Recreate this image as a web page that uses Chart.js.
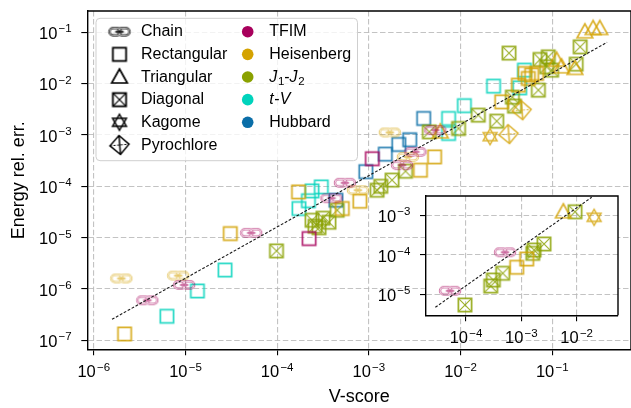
<!DOCTYPE html>
<html><head><meta charset="utf-8"><title>V-score vs energy error</title>
<script src="https://cdn.jsdelivr.net/npm/chart.js@4.4.1/dist/chart.umd.min.js"></script>
<style>
html,body{margin:0;padding:0;background:#fff;overflow:hidden;}
#wrap{position:relative;width:640px;height:408px;}
#wrap canvas{position:absolute;left:0;top:0;}
</style></head><body>
<div id="wrap"><canvas id="main" width="640" height="408"></canvas><canvas id="inset" width="640" height="408"></canvas></div>
<script>
// ---------------- data: [V-score, energy relative error] ----------------
const tfimChain = [[3.84e-6,6.03e-7],[9.68e-6,1.20e-6],[5.21e-5,1.24e-5],[3.91e-4,5.86e-5],[5.48e-4,1.17e-4],[2.30e-3,2.58e-4],[3.22e-3,4.69e-4],[5.31e-3,1.24e-3]];
const tfimRect = [[2.23e-4,9.59e-6],[1.09e-3,3.45e-4]];
const heisChain = [[2.00e-6,1.60e-6],[8.34e-6,1.82e-6],[7.59e-4,8.40e-5],[1.69e-3,1.12e-3],[2.66e-3,3.74e-4]];
const heisRect = [[2.17e-6,1.33e-7],[3.08e-5,1.20e-5],[1.71e-4,7.78e-5],[5.13e-4,3.69e-5],[7.98e-4,5.13e-5],[3.65e-3,2.06e-4],[5.21e-3,3.74e-4],[2.81e-2,4.42e-3],[4.27e-2,9.35e-3],[5.05e-2,1.58e-2],[5.96e-2,1.47e-2],[6.75e-2,1.58e-2],[5.48e-2,1.26e-2]];
const heisTri = [[6.01e-3,1.15e-3],[0.1115,2.87e-2],[0.126,2.13e-2],[0.1766,1.98e-2],[0.2266,0.1023],[0.279,0.119],[0.330,0.119]];
const heisKagome = [[2.10e-2,9.27e-4]];
const heisPyro = [[3.33e-2,1.04e-3],[4.64e-2,3.04e-3]];
const j1j2Diag = [[9.82e-5,5.51e-6],[2.40e-4,2.18e-5],[2.59e-4,1.67e-5],[2.86e-4,1.56e-5],[3.16e-4,2.39e-5],[3.67e-4,2.00e-5],[4.52e-4,3.42e-5],[1.23e-3,8.40e-5],[1.35e-3,1.00e-4],[1.79e-3,1.32e-4],[2.51e-3,1.97e-4],[4.57e-3,1.15e-3],[9.51e-3,1.34e-3],[1.56e-2,2.43e-3],[2.48e-2,1.86e-3],[3.67e-2,5.46e-3],[3.87e-2,3.64e-3],[3.38e-2,3.94e-2],[7.05e-2,7.46e-3],[7.35e-2,2.96e-2],[9.05e-2,3.33e-2],[9.84e-2,1.83e-2],[8.67e-2,2.13e-2],[0.2014,5.21e-2],[0.1823,2.40e-2]];
const tvRect = [[6.27e-6,2.94e-7],[1.35e-5,9.15e-7],[2.70e-5,2.34e-6],[1.73e-4,3.69e-5],[2.19e-4,5.24e-5],[2.40e-4,8.13e-5],[3.03e-4,9.73e-5],[7.41e-3,2.10e-3],[7.41e-3,1.07e-3],[1.10e-2,3.73e-3],[2.29e-2,8.93e-3],[4.42e-2,8.28e-3],[4.97e-2,1.83e-2]];
const hubbardRect = [[4.37e-4,5.36e-5],[9.27e-4,1.93e-4],[1.51e-3,4.23e-4],[2.12e-3,6.53e-4],[2.79e-3,8.09e-4],[3.96e-3,2.10e-3]];
const fitMain = [[1.58e-6,2.56e-7],[0.396,6.38e-2]];

// inset panel
const insTfimChain = [[5.14e-5,1.23e-5],[5.07e-4,1.16e-4]];
const insJ1j2Diag = [[9.59e-5,5.36e-6],[2.80e-4,1.62e-5],[3.12e-4,2.30e-5],[4.61e-4,3.40e-5],[1.61e-3,1.09e-4],[1.70e-3,1.32e-4],[2.57e-3,1.88e-4],[9.35e-3,1.23e-3]];
const insHeisRect = [[8.26e-4,4.83e-5],[1.25e-3,7.83e-5]];
const insHeisTri = [[5.75e-3,1.23e-3]];
const insHeisKagome = [[2.07e-2,8.89e-4]];
const fitInset = [[2.79e-5,4.69e-6],[1.87e-2,2.86e-3]];

// ticks and labels
const mainXTicks = [1e-6,1e-5,1e-4,1e-3,1e-2,1e-1];
const mainYTicks = [1e-7,1e-6,1e-5,1e-4,1e-3,1e-2,1e-1];
const insetXTicks = [1e-4,1e-3,1e-2];
const insetYTicks = [1e-5,1e-4,1e-3];
const latticeLabels = ['Chain','Rectangular','Triangular','Diagonal','Kagome','Pyrochlore'];
const latticeShapes = ['chain','square','triangle','diag','kagome','pyro'];
const modelLabels = ['TFIM','Heisenberg','J1-J2','t-V','Hubbard'];

// ---------------- styles ----------------
const FAM = "'Liberation Sans', Arial, Helvetica, sans-serif";
const COLORS = {'TFIM':'#a8005c','Heisenberg':'#d4a200','J1-J2':'#8aa100','t-V':'#00d3bc','Hubbard':'#0a6ea8'};

function makeMarker(shape, color, alpha) {
  const S = 28, c = S / 2;
  const tmp = document.createElement('canvas'); tmp.width = S; tmp.height = S;
  const g = tmp.getContext('2d');
  g.strokeStyle = color; g.fillStyle = color; g.lineJoin = 'miter';
  const h = 6.6;
  if (shape === 'square' || shape === 'diag') {
    g.lineWidth = 1.8; g.strokeRect(c - h, c - h, 2 * h, 2 * h);
    if (shape === 'diag') {
      g.lineWidth = 1.2; g.beginPath();
      g.moveTo(c - h, c - h); g.lineTo(c + h, c + h);
      g.moveTo(c + h, c - h); g.lineTo(c - h, c + h); g.stroke();
    }
  } else if (shape === 'triangle') {
    g.lineWidth = 1.7; g.beginPath();
    g.moveTo(c, c - 8); g.lineTo(c + 7.8, c + 6); g.lineTo(c - 7.8, c + 6); g.closePath(); g.stroke();
  } else if (shape === 'kagome') {
    g.lineWidth = 1.5; const R = 8;
    for (const s of [1, -1]) {
      g.beginPath();
      g.moveTo(c, c - s * R);
      g.lineTo(c + R * 0.866, c + s * R * 0.5);
      g.lineTo(c - R * 0.866, c + s * R * 0.5);
      g.closePath(); g.stroke();
    }
  } else if (shape === 'pyro') {
    g.lineWidth = 1.5;
    const T = [c - 0.5, c - 9.5], Rt = [c + 9.5, c - 0.8], B = [c + 1, c + 9.5], L = [c - 9.5, c + 0.8];
    g.beginPath(); g.moveTo(...T); g.lineTo(...Rt); g.lineTo(...B); g.lineTo(...L); g.closePath(); g.stroke();
    g.beginPath(); g.moveTo(...T); g.lineTo(...B); g.stroke();
    g.lineWidth = 1; g.setLineDash([2, 1.6]); g.beginPath(); g.moveTo(...L); g.lineTo(...Rt); g.stroke(); g.setLineDash([]);
  } else if (shape === 'chain') {
    const w = 11.5, hh = 7.2, off = 4.3;
    const link = (cx) => { g.beginPath(); g.roundRect(cx - w / 2, c - hh / 2, w, hh, hh / 2); g.stroke(); };
    g.lineWidth = 2.3; link(c - off); link(c + off);
    g.globalCompositeOperation = 'destination-out'; g.lineWidth = 0.8; link(c - off); link(c + off);
    g.globalCompositeOperation = 'source-over';
    g.lineWidth = 1.4; g.beginPath(); g.moveTo(c - off, c); g.lineTo(c + off, c); g.stroke();
  } else if (shape === 'circle') {
    g.beginPath(); g.arc(c, c, 5.8, 0, Math.PI * 2); g.fill();
  }
  const out = document.createElement('canvas'); out.width = S; out.height = S;
  const o = out.getContext('2d'); o.globalAlpha = alpha; o.drawImage(tmp, 0, 0);
  return out;
}

function pts(arr) { return arr.map(([x, y]) => ({x, y})); }
function scatterSet(arr, model, shape) {
  const alpha = shape === 'chain' ? 0.65 : 0.82;
  return {type: 'scatter', data: pts(arr), pointStyle: makeMarker(shape, COLORS[model], alpha),
          pointRadius: 8, pointHoverRadius: 8, order: 2, showLine: false};
}
function fitSet(arr) {
  return {type: 'line', data: pts(arr), borderColor: '#1a1a1a', borderWidth: 1.1, borderDash: [2.8, 1.7],
          pointRadius: 0, fill: false, order: 0, tension: 0};
}

function drawPow(ctx, v, x, base, align) {
  const e = Math.round(Math.log10(v));
  const big = '16.5px ' + FAM, small = '11.5px ' + FAM;
  ctx.font = big; const w1 = ctx.measureText('10').width;
  const sup = (e < 0 ? '\u2212' : '') + Math.abs(e);
  ctx.font = small; const w2 = ctx.measureText(sup).width;
  const gap = 1.2, total = w1 + gap + w2;
  const x0 = align === 'center' ? x - total / 2 : x - total;
  ctx.fillStyle = '#000'; ctx.textAlign = 'left'; ctx.textBaseline = 'alphabetic';
  ctx.font = big; ctx.fillText('10', x0, base);
  ctx.font = small; ctx.fillText(sup, x0 + w1 + gap, base - 6.8);
}

const powLabels = {
  id: 'powLabels',
  afterDraw(chart) {
    const ctx = chart.ctx, a = chart.chartArea, xs = chart.scales.x, ys = chart.scales.y;
    ctx.save();
    xs.ticks.forEach(t => drawPow(ctx, t.value, xs.getPixelForValue(t.value), a.bottom + 28, 'center'));
    ys.ticks.forEach(t => drawPow(ctx, t.value, a.left - 15.6, ys.getPixelForValue(t.value) + 6.7, 'right'));
    ctx.restore();
  }
};
const frame = {
  id: 'frame',
  afterDatasetsDraw(chart) {
    const ctx = chart.ctx, a = chart.chartArea;
    ctx.save(); ctx.strokeStyle = '#000'; ctx.lineWidth = 1.4; ctx.beginPath();
    ctx.moveTo(a.left, a.top); ctx.lineTo(a.right, a.top); ctx.lineTo(a.right, a.bottom); ctx.stroke();
    ctx.restore();
  }
};
const whiteBg = {
  id: 'whiteBg',
  beforeDraw(chart) {
    const ctx = chart.ctx, a = chart.chartArea;
    ctx.save(); ctx.fillStyle = '#fff'; ctx.fillRect(a.left, a.top, a.right - a.left, a.bottom - a.top); ctx.restore();
  }
};

function drawRich(ctx, label, x, base) {
  let parts;
  if (label === 'J1-J2') parts = [['J', 'i'], ['1', 's'], ['-', 'n'], ['J', 'i'], ['2', 's']];
  else if (label === 't-V') parts = [['t', 'i'], ['-', 'n'], ['V', 'i']];
  else parts = [[label, 'n']];
  let cx = x;
  for (const [t, s] of parts) {
    if (s === 's') { ctx.font = '11.5px ' + FAM; ctx.fillText(t, cx, base + 3.6); }
    else { ctx.font = (s === 'i' ? 'italic ' : '') + '16px ' + FAM; ctx.fillText(t, cx, base); }
    cx += ctx.measureText(t).width + (s === 'i' ? 0.6 : 0);
  }
}

const legendBox = {
  id: 'legendBox',
  afterDraw(chart) {
    const ctx = chart.ctx;
    ctx.save();
    const bx = 96, by = 18.3, bw = 261.5, bh = 142.4;
    ctx.beginPath(); ctx.roundRect(bx, by, bw, bh, 4);
    ctx.fillStyle = 'rgba(255,255,255,0.8)'; ctx.fill();
    ctx.strokeStyle = '#cfcfcf'; ctx.lineWidth = 1; ctx.stroke();
    ctx.fillStyle = '#000'; ctx.textAlign = 'left'; ctx.textBaseline = 'alphabetic';
    const row0 = 31.7, step = 22.65;
    latticeLabels.forEach((lab, i) => {
      const y = row0 + i * step;
      const m = makeMarker(latticeShapes[i], '#000', 1);
      ctx.drawImage(m, 119.5 - m.width / 2, y - m.height / 2);
      ctx.fillStyle = '#000'; drawRich(ctx, lab, 141, y + 4.6);
    });
    modelLabels.forEach((lab, i) => {
      const y = row0 + i * step;
      ctx.fillStyle = COLORS[lab]; ctx.beginPath(); ctx.arc(247.7, y, 5.8, 0, Math.PI * 2); ctx.fill();
      ctx.fillStyle = '#000'; drawRich(ctx, lab, 269.3, y + 4.6);
    });
    ctx.restore();
  }
};

function logAxis(min, max, tickVals, fitFn, title) {
  const ax = {
    type: 'logarithmic', min, max, bounds: 'data',
    afterBuildTicks: s => { s.ticks = tickVals.map(v => ({value: v})); },
    afterFit: fitFn,
    ticks: {display: false},
    grid: {color: 'rgba(185,185,185,0.85)', lineWidth: 1.1, drawTicks: true, tickLength: 6, tickColor: '#000', tickWidth: 1.1},
    border: {display: true, color: '#000', width: 1.4, dash: [5.5, 2.6]}
  };
  if (title) ax.title = title;
  return ax;
}

Chart.defaults.font.family = FAM;
Chart.defaults.color = '#000';

const mainSets = [
  fitSet(fitMain),
  scatterSet(tfimChain, 'TFIM', 'chain'),
  scatterSet(tfimRect, 'TFIM', 'square'),
  scatterSet(heisChain, 'Heisenberg', 'chain'),
  scatterSet(heisRect, 'Heisenberg', 'square'),
  scatterSet(heisTri, 'Heisenberg', 'triangle'),
  scatterSet(heisKagome, 'Heisenberg', 'kagome'),
  scatterSet(heisPyro, 'Heisenberg', 'pyro'),
  scatterSet(j1j2Diag, 'J1-J2', 'diag'),
  scatterSet(tvRect, 't-V', 'square'),
  scatterSet(hubbardRect, 'Hubbard', 'square')
];

new Chart(document.getElementById('main'), {
  type: 'scatter',
  data: {datasets: mainSets},
  options: {
    responsive: false, animation: false, devicePixelRatio: window.devicePixelRatio || 1,
    layout: {padding: {left: 0, right: 7, top: 11, bottom: 0}},
    plugins: {legend: {display: false}, tooltip: {enabled: false}},
    events: [],
    scales: {
      x: logAxis(8.50e-7, 0.7225, mainXTicks, s => { s.height = 58.7; },
        {display: true, text: 'V-score', font: {size: 18, family: FAM}, color: '#000', padding: {top: 0, bottom: 0}}),
      y: logAxis(6.68e-8, 0.2602, mainYTicks, s => { s.width = 87.3; },
        {display: true, text: 'Energy rel. err.', font: {size: 18, family: FAM}, color: '#000', padding: {top: 8, bottom: 0}})
    }
  },
  plugins: [frame, powLabels, legendBox]
});

const insetSets = [
  fitSet(fitInset),
  scatterSet(insTfimChain, 'TFIM', 'chain'),
  scatterSet(insHeisRect, 'Heisenberg', 'square'),
  scatterSet(insHeisTri, 'Heisenberg', 'triangle'),
  scatterSet(insHeisKagome, 'Heisenberg', 'kagome'),
  scatterSet(insJ1j2Diag, 'J1-J2', 'diag')
];

new Chart(document.getElementById('inset'), {
  type: 'scatter',
  data: {datasets: insetSets},
  options: {
    responsive: false, animation: false,
    layout: {padding: {left: 426, right: 22, top: 196, bottom: 92.7}},
    plugins: {legend: {display: false}, tooltip: {enabled: false}},
    events: [],
    scales: {
      x: logAxis(1.892e-5, 0.05585, insetXTicks, s => { s.height = 0; }),
      y: logAxis(2.94e-6, 3.083e-3, insetYTicks, s => { s.width = 0; })
    }
  },
  plugins: [whiteBg, frame, powLabels]
});
</script></body></html>
